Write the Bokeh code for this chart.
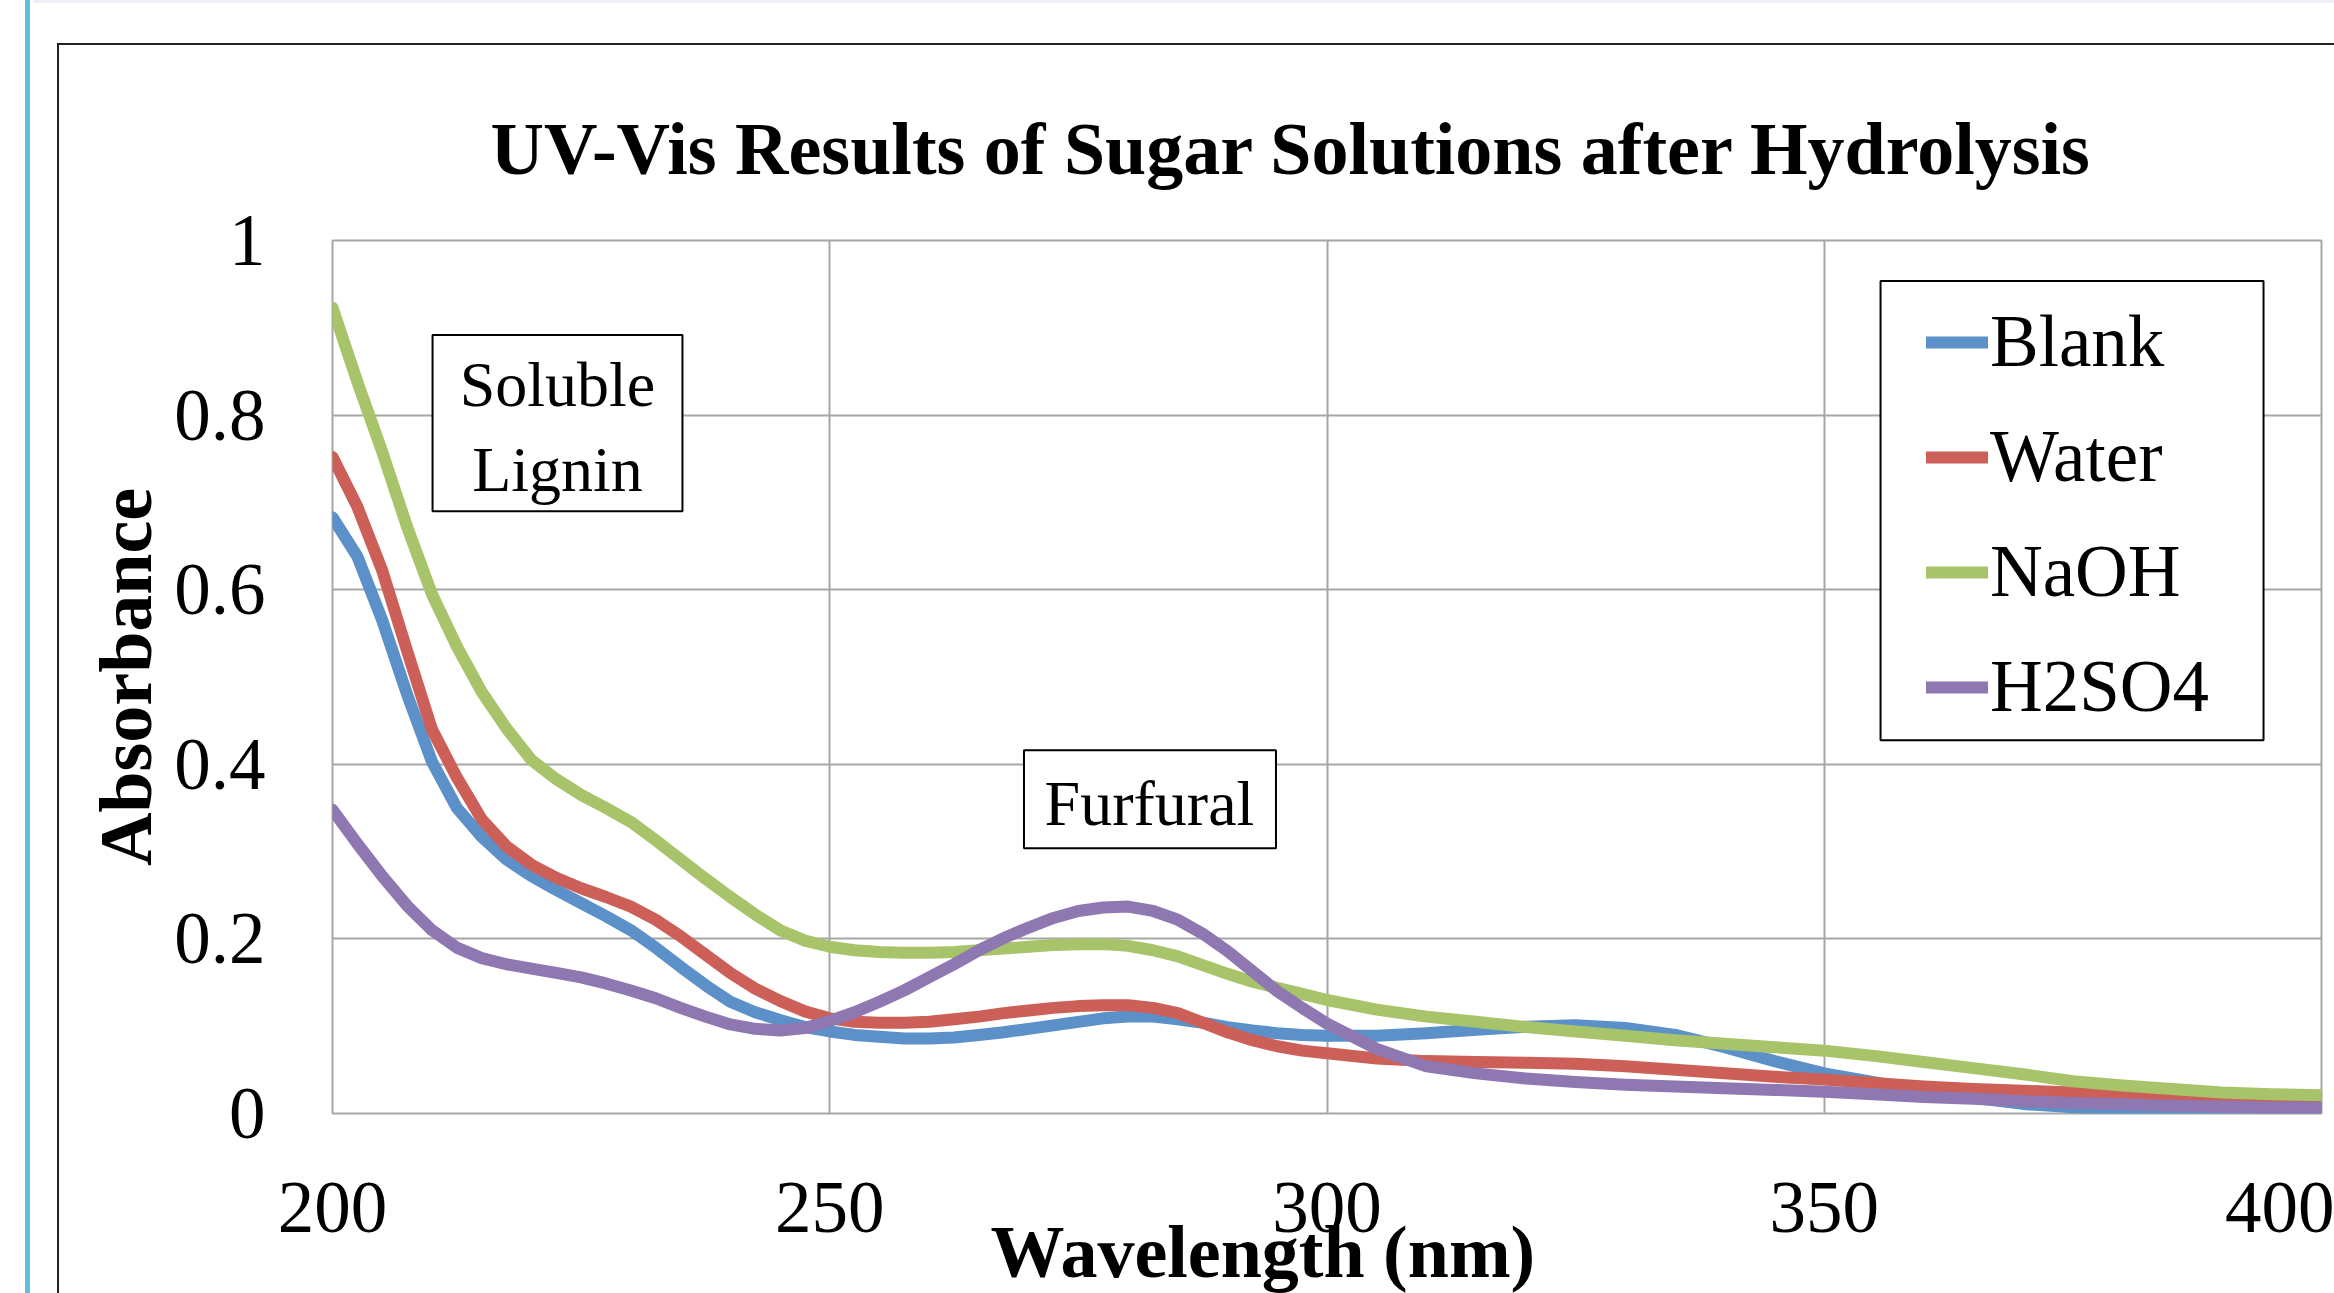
from bokeh.plotting import figure
from bokeh.models import (Range1d, FixedTicker, NumeralTickFormatter, Legend, LegendItem,
                          BoxAnnotation, Label, Title)
from bokeh.embed import file_html
from bokeh.resources import INLINE

# ---------------- data ----------------
wavelength = [200, 202.5, 205, 207.5, 210, 212.5, 215, 217.5, 220, 222.5, 225, 227.5,
              230, 232.5, 235, 237.5, 240, 242.5, 245, 247.5, 250, 252.5, 255, 257.5,
              260, 262.5, 265, 267.5, 270, 272.5, 275, 277.5, 280, 282.5, 285, 287.5,
              290, 292.5, 295, 297.5, 300, 305, 310, 315, 320, 325, 330, 335, 340, 345,
              350, 355, 360, 365, 370, 375, 380, 385, 390, 395, 400]
blank = [0.683, 0.638, 0.565, 0.480, 0.403, 0.350, 0.317, 0.291, 0.272, 0.256, 0.241, 0.226,
         0.210, 0.190, 0.168, 0.147, 0.128, 0.116, 0.107, 0.099, 0.094, 0.090, 0.088, 0.086,
         0.086, 0.087, 0.090, 0.093, 0.097, 0.101, 0.105, 0.109, 0.111, 0.111, 0.108, 0.104,
         0.099, 0.095, 0.092, 0.090, 0.089, 0.089, 0.092, 0.096, 0.0995, 0.101, 0.098, 0.090,
         0.076, 0.060, 0.046, 0.036, 0.026, 0.018, 0.011, 0.007, 0.004, 0.003, 0.002, 0.002,
         0.002]
water = [0.752, 0.695, 0.622, 0.530, 0.440, 0.385, 0.337, 0.306, 0.285, 0.270, 0.258, 0.248,
         0.237, 0.222, 0.203, 0.182, 0.161, 0.143, 0.129, 0.117, 0.109, 0.105, 0.104, 0.104,
         0.105, 0.108, 0.111, 0.115, 0.118, 0.121, 0.123, 0.124, 0.124, 0.121, 0.115, 0.104,
         0.093, 0.084, 0.077, 0.072, 0.069, 0.063, 0.060, 0.059, 0.058, 0.057, 0.054, 0.050,
         0.046, 0.042, 0.039, 0.035, 0.031, 0.028, 0.026, 0.024, 0.022, 0.020, 0.018, 0.016,
         0.015]
naoh = [0.923, 0.838, 0.758, 0.672, 0.595, 0.535, 0.483, 0.441, 0.405, 0.383, 0.365, 0.350,
        0.334, 0.313, 0.291, 0.269, 0.248, 0.228, 0.210, 0.198, 0.191, 0.187, 0.185, 0.184,
        0.184, 0.185, 0.187, 0.189, 0.191, 0.193, 0.194, 0.194, 0.192, 0.187, 0.180, 0.170,
        0.160, 0.151, 0.144, 0.137, 0.130, 0.119, 0.111, 0.105, 0.099, 0.094, 0.089, 0.084,
        0.080, 0.076, 0.072, 0.066, 0.059, 0.052, 0.045, 0.037, 0.032, 0.028, 0.024, 0.022,
        0.021]
h2so4 = [0.348, 0.309, 0.272, 0.238, 0.210, 0.190, 0.178, 0.171, 0.166, 0.161, 0.156, 0.149,
         0.141, 0.132, 0.121, 0.111, 0.102, 0.097, 0.095, 0.098, 0.106, 0.116, 0.128, 0.141,
         0.156, 0.171, 0.187, 0.201, 0.213, 0.224, 0.232, 0.236, 0.237, 0.232, 0.222, 0.206,
         0.186, 0.163, 0.140, 0.121, 0.103, 0.074, 0.054, 0.046, 0.040, 0.036, 0.033, 0.031,
         0.029, 0.027, 0.025, 0.022, 0.019, 0.017, 0.014, 0.012, 0.0105, 0.009, 0.008, 0.007,
         0.0065]
series_names = ["Blank", "Water", "NaOH", "H2SO4"]
x_ticks = [200, 250, 300, 350, 400]
y_ticks = [0, 0.2, 0.4, 0.6, 0.8, 1]

title_text = "UV-Vis Results of Sugar Solutions after Hydrolysis"
x_title = "Wavelength (nm)"
y_title = "Absorbance"

# ---------------- styling ----------------
FONT = "Liberation Serif"
COLORS = ["#5B90C8", "#CC6059", "#A8C46A", "#8F77B1"]
GRID = "#A6A6A6"

p = figure(width=2334, height=1293, output_backend="svg", toolbar_location=None,
           x_range=Range1d(200, 400), y_range=Range1d(0, 1),
           min_border_left=332, min_border_right=13, min_border_top=240, min_border_bottom=180,
           title=title_text)
p.background_fill_color = "white"
p.border_fill_color = None
p.outline_line_color = GRID
p.outline_line_width = 2

# page decorations outside the chart: blue rule, outer chart frame, light top strip
p.styles = {
    "background-color": "white",
    "background-image": ("linear-gradient(#64C0DA, #64C0DA), linear-gradient(#222, #222), "
                         "linear-gradient(#222, #222), linear-gradient(#EDF1F6, #EDF1F6)"),
    "background-position": "25px 0px, 57px 43px, 57px 43px, 33px 0px",
    "background-size": "5px 100%, 2px 100%, 100% 2px, 100% 3px",
    "background-repeat": "no-repeat",
}

p.title.text_font = FONT
p.title.text_font_size = "74px"
p.title.text_font_style = "bold"
p.title.text_color = "black"
p.title.align = "left"
p.title.offset = 158
p.title.standoff = 102

for ax in (p.xaxis[0], p.yaxis[0]):
    ax.axis_line_color = None
    ax.major_tick_line_color = None
    ax.minor_tick_line_color = None
    ax.major_tick_out = 0
    ax.major_tick_in = 0
    ax.major_label_text_font = FONT
    ax.major_label_text_font_size = "73px"
    ax.major_label_text_color = "black"
    ax.axis_label_text_font = FONT
    ax.axis_label_text_font_size = "74px"
    ax.axis_label_text_font_style = "bold"
    ax.axis_label_text_color = "black"

p.xaxis.ticker = FixedTicker(ticks=x_ticks)
p.yaxis.ticker = FixedTicker(ticks=y_ticks)
p.yaxis.formatter = NumeralTickFormatter(format="0.[0]")
p.xaxis.major_label_standoff = 69
p.yaxis.major_label_standoff = 67

p.yaxis.axis_label = y_title
p.yaxis.axis_label_standoff = 4

# x-axis title: a panel title below the axis, so it can sit left of centre as in the reference
x_title_model = Title(text=x_title, align="left", offset=658, vertical_align="top",
                      standoff=-48, text_font=FONT, text_font_size="74px",
                      text_font_style="bold", text_color="black")
p.add_layout(x_title_model, "below")

p.xgrid.grid_line_color = GRID
p.ygrid.grid_line_color = GRID
p.xgrid.grid_line_width = 2
p.ygrid.grid_line_width = 2

renderers = []
for ys, color in zip([blank, water, naoh, h2so4], COLORS):
    r = p.line(wavelength, ys, line_color=color, line_width=12,
               line_cap="round", line_join="round")
    renderers.append(r)

# annotation boxes
p.add_layout(BoxAnnotation(left=210.06, right=235.19, top=0.8917, bottom=0.690,
                           fill_color="white", fill_alpha=1, line_color="black",
                           line_alpha=1, line_width=2))
p.add_layout(Label(x=222.62, y=0.7862, text="Soluble\nLignin", text_align="center",
                   text_baseline="middle", text_font=FONT, text_font_size="64px",
                   text_line_height=1.2, text_color="black"))
p.add_layout(BoxAnnotation(left=269.53, right=294.87, top=0.4160, bottom=0.3037,
                           fill_color="white", fill_alpha=1, line_color="black",
                           line_alpha=1, line_width=2))
p.add_layout(Label(x=282.15, y=0.3553, text="Furfural", text_align="center",
                   text_baseline="middle", text_font=FONT, text_font_size="64px",
                   text_color="black"))

# legend frame + legend
p.add_layout(BoxAnnotation(left=355.66, right=394.17, top=0.9536, bottom=0.4275,
                           fill_color="white", fill_alpha=1, line_color="black",
                           line_alpha=1, line_width=2))
legend = Legend(items=[LegendItem(label=n, renderers=[r]) for n, r in zip(series_names, renderers)],
                location=(1594, 376), padding=0, margin=0, spacing=15,
                glyph_width=62, glyph_height=84, label_height=100, label_standoff=2,
                border_line_alpha=0, background_fill_alpha=0,
                label_text_font=FONT, label_text_font_size="73px", label_text_color="black")
p.add_layout(legend)

open("out.html", "w").write(file_html(p, INLINE))
